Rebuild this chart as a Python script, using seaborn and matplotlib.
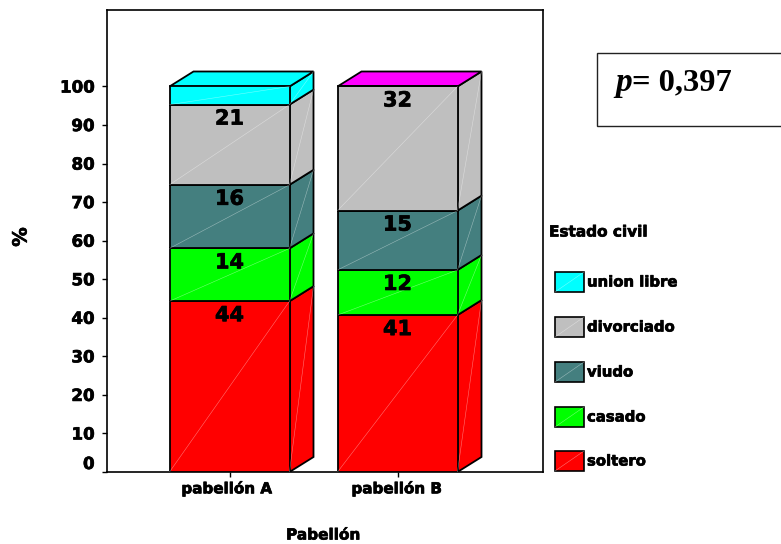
import matplotlib
matplotlib.use("Agg")
import matplotlib.pyplot as plt
import matplotlib.patheffects as pe
from matplotlib.patches import Polygon, Rectangle
from matplotlib.lines import Line2D
from matplotlib.transforms import ScaledTranslation
import numpy as np
import pandas as pd
import seaborn as sns

pabellones = ["pabellón A", "pabellón B"]
estados = ["soltero", "casado", "viudo", "divorciado", "union libre"]
soltero = [44.3, 40.7]
casado = [13.7, 11.7]
viudo = [16.5, 15.4]
divorciado = [20.8, 32.2]
union_libre = [4.7, 0.0]
etiquetas = [["44", "14", "16", "21", ""], ["41", "12", "15", "32", ""]]
yticks = [0, 10, 20, 30, 40, 50, 60, 70, 80, 90, 100]

colores = ["#ff0000", "#00ff00", "#447f7f", "#bfbfbf", "#00ffff"]
W, H = 781, 544
ancho = 120 / 168
dx = 24 / 168
dy = 15 / 3.855

sns.set_style("white")
plt.rcParams["font.family"] = ["DejaVu Sans"]
plt.rcParams["font.weight"] = "bold"
plt.rcParams["text.color"] = "black"
plt.rcParams["xtick.color"] = "black"
plt.rcParams["ytick.color"] = "black"

# trazo fino para engrosar las letras
grueso = [pe.withStroke(linewidth=0.5, foreground="black")]

fig = plt.figure(figsize=(W / 100, H / 100), dpi=100)
ax = fig.add_axes([107 / W, 1 - 472 / H, 436 / W, 462 / H])

df = pd.DataFrame({"pabellon": pabellones, "soltero": soltero, "casado": casado,
                   "viudo": viudo, "divorciado": divorciado, "union libre": union_libre})

# columnas apiladas, cara frontal
abajo = np.zeros(2)
for est, col in zip(estados, colores):
    sns.barplot(data=df, x="pabellon", y=est, bottom=abajo, color=col, saturation=1,
                width=ancho, edgecolor="black", linewidth=1.3, ax=ax, zorder=3)
    abajo = abajo + df[est].values

# caras laterales y tapa
for i in range(2):
    base = 0.0
    x0, x1 = i - ancho / 2, i + ancho / 2
    for j, (est, col) in enumerate(zip(estados, colores)):
        v = df[est].values[i]
        if v > 0:
            ax.add_patch(Polygon([(x1, base), (x1 + dx, base + dy), (x1 + dx, base + v + dy), (x1, base + v)],
                                 closed=True, fc=col, ec="black", lw=1.3, zorder=2))
            ax.plot([x0, x1], [base, base + v], color="white", lw=0.4, alpha=0.45, zorder=4)
            ax.plot([x1, x1 + dx], [base, base + v + dy], color="white", lw=0.4, alpha=0.45, zorder=4)
            ax.text(i, base + v - 14 / 3.855, etiquetas[i][j], ha="center", va="center",
                    fontsize=15, fontweight="bold", color="black", zorder=5, path_effects=grueso)
        base += v
    tapa = "#00ffff" if i == 0 else "#ff00ff"
    ax.add_patch(Polygon([(x0, base), (x0 + dx, base + dy), (x1 + dx, base + dy), (x1, base)],
                         closed=True, fc=tapa, ec="black", lw=1.3, zorder=2))

ax.set_xlim(-122.5 / 168, 313.5 / 168)
ax.set_ylim(0, 462 / 3.855)
ax.set_yticks(yticks)
ax.set_yticklabels([str(t) for t in yticks], fontsize=12, fontweight="bold", path_effects=grueso)
ax.set_xticks([0, 1])
ax.set_xticklabels(pabellones, fontsize=10.9, fontweight="bold", path_effects=grueso)
ax.tick_params(axis="both", direction="out", length=3.5, width=1, color="black", left=True, bottom=True)
ax.tick_params(axis="x", pad=2.5)
ax.tick_params(axis="y", pad=5.5)
ax.set_xlabel("")
ax.set_ylabel("")
for s in ax.spines.values():
    s.set_visible(True)
    s.set_color("black")
    s.set_linewidth(1.2)

# las etiquetas van un poco mas arriba, la del 0 bastante mas
for lab, sube in zip(ax.get_yticklabels(), [10, 1, 1, 1, 1, 1, 1, 1, 1, 1, 1]):
    lab.set_transform(lab.get_transform() + ScaledTranslation(0, sube / 100, fig.dpi_scale_trans))
for lab, corre in zip(ax.get_xticklabels(), [-3, -1]):
    lab.set_transform(lab.get_transform() + ScaledTranslation(corre / 100, 0, fig.dpi_scale_trans))

fig.text(323 / W, 1 - 535 / H, "Pabellón", ha="center", va="center", fontsize=11, fontweight="bold",
         path_effects=grueso)
fig.text(21 / W, 1 - 237 / H, "%", ha="center", va="center", rotation=90, fontsize=14, fontweight="bold",
         path_effects=grueso)

# caja del valor p
fig.add_artist(Rectangle((597 / W, 1 - 125.5 / H), 190 / W, 73 / H, transform=fig.transFigure,
                         fc="white", ec="#222222", lw=1))
fig.text(615 / W, 1 - 83 / H, "p", family="Liberation Serif", style="italic", fontweight="bold",
         fontsize=24, va="center")
fig.text(632 / W, 1 - 83 / H, "= 0,397", family="Liberation Serif", fontweight="bold",
         fontsize=23.4, va="center")

# leyenda
fig.text(549 / W, 1 - 232 / H, "Estado civil", fontsize=11, fontweight="bold", va="center",
         path_effects=grueso)
ley_y = [461, 417, 372, 327, 282]
for est, col, y in zip(estados, colores, ley_y):
    x_r, y_r = 555 / W, 1 - (y + 10) / H
    w_r, h_r = 29 / W, 20 / H
    fig.add_artist(Rectangle((x_r, y_r), w_r, h_r, transform=fig.transFigure, fc=col, ec="black", lw=1.2))
    fig.add_artist(Line2D([x_r, x_r + w_r], [y_r, y_r + h_r], transform=fig.transFigure,
                          color="white", lw=0.4, alpha=0.45))
    fig.text(587 / W, 1 - y / H, est, fontsize=10.7, fontweight="bold", va="center", path_effects=grueso)

fig.savefig("out.png", dpi=100)
